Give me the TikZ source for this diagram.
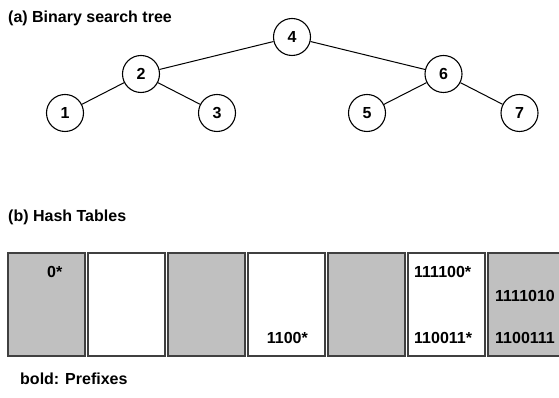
\documentclass[tikz,border=0pt]{standalone}
\usepackage{fontspec}
\setmainfont{Liberation Sans}
\definecolor{cellgray}{HTML}{C0C0C0}
\begin{document}
\begin{tikzpicture}[x=1pt,y=1pt,
  every node/.style={font=\fontsize{16}{19}\selectfont\bfseries},
  treenode/.style={circle,draw=black,line width=1.1pt,minimum size=37pt,inner sep=0pt,fill=white},
  edge/.style={draw=black,line width=1pt},
  graycell/.style={draw=black!75,line width=1.2pt,fill=cellgray},
  whitecell/.style={draw=black!75,line width=1.2pt,fill=white},
  lbl/.style={inner sep=0pt}]
\useasboundingbox (0,0) rectangle (559,398);
\clip (0,0) rectangle (559,398);
% titles
\node[lbl,anchor=base west] (ta) at (8,375) {(a) Binary search tree};
\node[lbl,anchor=base west] (tb) at (8,176) {(b) Hash Tables};
\node[lbl,anchor=base west] (tc) at (20,13) {bold: Prefixes};
% tree
\node[treenode] (n4) at (292,361) {4};
\node[treenode] (n2) at (141,324) {2};
\node[treenode] (n6) at (443.5,324) {6};
\node[treenode] (n1) at (65,285) {1};
\node[treenode] (n3) at (217,285) {3};
\node[treenode] (n5) at (367,285) {5};
\node[treenode] (n7) at (519.5,285) {7};
\draw[edge] (n4) -- (n2);
\draw[edge] (n4) -- (n6);
\draw[edge] (n2) -- (n1);
\draw[edge] (n2) -- (n3);
\draw[edge] (n6) -- (n5);
\draw[edge] (n6) -- (n7);
% hash table cells
\draw[graycell]  (8,42) rectangle (85,145);
\draw[whitecell] (88,42) rectangle (165,145);
\draw[graycell]  (168,42) rectangle (245,145);
\draw[whitecell] (248,42) rectangle (325,145);
\draw[graycell]  (328,42) rectangle (405,145);
\draw[whitecell] (408,42) rectangle (485,145);
\draw[graycell]  (488,42) rectangle (565,145);
% cell texts
\node[lbl,anchor=west] (c1) at (47,126) {0*};
\node[lbl,anchor=east] (c4) at (308,60) {1100*};
\node[lbl,anchor=west] (c6a) at (414,126) {111100*};
\node[lbl,anchor=west] (c6b) at (414,60) {110011*};
\node[lbl,anchor=west] (c7a) at (495,102) {1111010};
\node[lbl,anchor=west] (c7b) at (495,60) {1100111};
\end{tikzpicture}
\end{document}
